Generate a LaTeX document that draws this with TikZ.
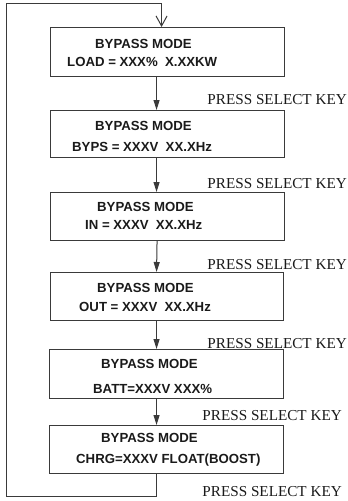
\documentclass[tikz,border=0pt]{standalone}
\usepackage{fontspec}
\setmainfont{Liberation Serif}
\newfontfamily\boxfont{Liberation Sans}
\usetikzlibrary{arrows.meta}
\definecolor{ln}{HTML}{3A3A3A}
\definecolor{tx}{HTML}{1A1A1A}
\begin{document}
\begin{tikzpicture}[x=1pt,y=-1pt,
  box/.style={draw=ln, line width=1.1pt, anchor=north west, inner sep=0pt, minimum width=234pt},
  btext/.style={anchor=base west, inner sep=0pt, text=tx, font=\boxfont\bfseries\fontsize{13.2}{15}\selectfont},
  keylabel/.style={anchor=east, inner sep=0pt, text=tx, font=\fontsize{15.2}{17}\selectfont},
  conn/.style={draw=ln, line width=1pt},
  arr/.style={conn, -{Triangle[length=10pt,width=6pt]}},
  looparr/.style={conn, -{Straight Barb[length=10pt,width=11pt,line width=1pt]}}]
\useasboundingbox (0,0) rectangle (348,501);
\node[box, minimum height=49pt] (b1) at (50,27) {};
\node[box, minimum height=47pt] (b2) at (50,110) {};
\node[box, minimum height=48pt] (b3) at (50,192) {};
\node[box, minimum height=48pt, minimum width=233pt] (b4) at (50,272) {};
\node[box, minimum height=49pt] (b5) at (49,349) {};
\node[box, minimum height=48pt] (b6) at (49,425) {};
% texts
\node[btext] (t1a) at (95,48.7) {BYPASS MODE};
\node[btext] (t1b) at (67,66.7) {LOAD = XXX\%\ \ X.XXKW};
\node[btext] (t2a) at (95,130.7) {BYPASS MODE};
\node[btext] (t2b) at (72,151.7) {BYPS = XXXV\ \ XX.XHz};
\node[btext] (t3a) at (97,211.7) {BYPASS MODE};
\node[btext] (t3b) at (85,229.7) {IN = XXXV\ \ XX.XHz};
\node[btext] (t4a) at (97,292.7) {BYPASS MODE};
\node[btext] (t4b) at (79,311.7) {OUT = XXXV\ \ XX.XHz};
\node[btext] (t5a) at (101,368.7) {BYPASS MODE};
\node[btext] (t5b) at (93,393.7) {BATT=XXXV XXX\%};
\node[btext] (t6a) at (101,442.7) {BYPASS MODE};
\node[btext] (t6b) at (76,463.7) {CHRG=XXXV FLOAT(BOOST)};
% key labels
\node[keylabel] (k1) at (347,100) {PRESS SELECT KEY};
\node[keylabel] (k2) at (347,184) {PRESS SELECT KEY};
\node[keylabel] (k3) at (347,265) {PRESS SELECT KEY};
\node[keylabel] (k4) at (347,344) {PRESS SELECT KEY};
\node[keylabel] (k5) at (342,416) {PRESS SELECT KEY};
\node[keylabel] (k6) at (342,492) {PRESS SELECT KEY};
% connectors
\draw[arr] ([xshift=-11pt]b1.south) -- ([xshift=-11pt]b2.north);
\draw[arr] ([xshift=-11pt]b2.south) -- ([xshift=-11pt]b3.north);
\draw[arr] ([xshift=-10.5pt]b3.south) -- ([xshift=-10.5pt]b4.north);
\draw[arr] ([xshift=-10.5pt]b4.south) -- ([xshift=-10pt]b5.north);
\draw[arr] ([xshift=-10pt]b5.south) -- ([xshift=-10pt]b6.north);
\coordinate (bl) at (6,496);
\coordinate (tl) at (6,3);
\draw[looparr] ([xshift=-10pt]b6.south) |- (bl) -- (tl) -| ([xshift=-6pt]b1.north);
\end{tikzpicture}
\end{document}
